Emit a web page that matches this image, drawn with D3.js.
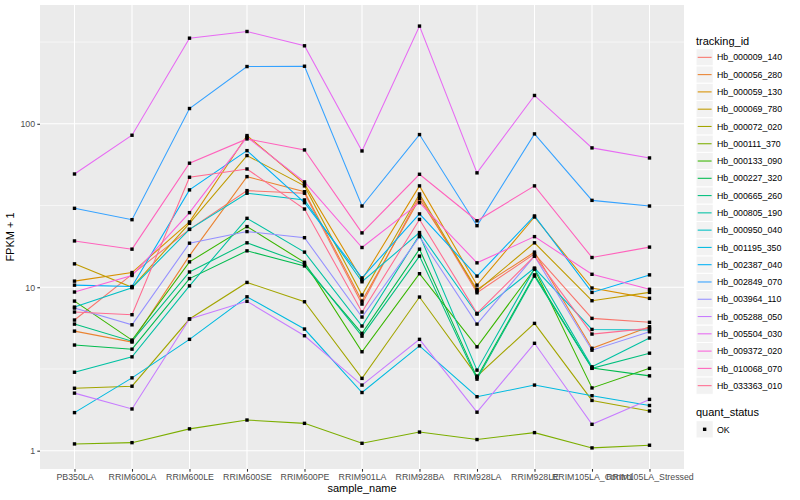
<!DOCTYPE html>
<html lang="en">
<head>
<meta charset="utf-8">
<title>FPKM by sample</title>
<script src="https://cdn.jsdelivr.net/npm/d3@7"></script>
<style>
  body { margin: 0; background: #fff; }
  svg text { font-family: "Liberation Sans", Arial, Helvetica, sans-serif; }
</style>
</head>
<body>
<div id="chart"></div>
<script>
// sample names on the x axis
var samples = ["PB350LA","RRIM600LA","RRIM600LE","RRIM600SE","RRIM600PE","RRIM901LA",
               "RRIM928BA","RRIM928LA","RRIM928LE","RRIM105LA_Control","RRIM105LA_Stressed"]

// FPKM + 1 per tracking id, one value per sample
var hb_000009_140 = [6.30, 12.0, 22.6, 39.0, 37.6, 7.89, 36.2, 9.25, 16.0, 6.45, 6.10]
var hb_000056_280 = [5.39, 4.62, 15.6, 47.5, 38.4, 8.23, 34.8, 9.71, 16.4, 4.23, 5.73]
var hb_000059_130 = [10.9, 12.3, 25.1, 84.7, 42.9, 11.1, 41.7, 10.3, 26.9, 9.89, 8.55]
var hb_000069_780 = [13.9, 10.0, 24.6, 63.9, 41.7, 8.96, 37.2, 9.48, 18.7, 8.27, 9.30]
var hb_000072_020 = [2.41, 2.48, 6.39, 10.7, 8.15, 2.77, 8.71, 2.86, 6.01, 2.03, 1.75]
var hb_000111_370 = [1.10, 1.12, 1.36, 1.54, 1.47, 1.11, 1.30, 1.17, 1.29, 1.04, 1.08]
var hb_000133_090 = [8.23, 4.75, 14.3, 23.5, 14.2, 4.03, 12.1, 4.32, 12.9, 2.42, 3.19]
var hb_000227_320 = [4.43, 4.18, 11.3, 16.7, 13.5, 5.22, 17.1, 2.81, 11.9, 3.20, 2.87]
var hb_000665_260 = [5.95, 4.68, 12.4, 18.7, 13.9, 5.02, 15.5, 2.74, 11.7, 3.19, 3.95]
var hb_000805_190 = [3.02, 3.75, 10.2, 26.4, 16.4, 5.79, 20.9, 3.11, 13.0, 3.26, 4.89]
var hb_000950_040 = [7.56, 9.93, 22.6, 37.6, 34.2, 10.8, 21.6, 6.85, 13.1, 5.52, 5.47]
var hb_001195_350 = [1.71, 2.79, 4.80, 8.74, 5.55, 2.27, 4.38, 2.14, 2.52, 2.17, 1.89]
var hb_002387_040 = [10.3, 10.1, 39.4, 68.5, 32.9, 11.4, 28.1, 11.7, 27.3, 9.30, 11.9]
var hb_002849_070 = [30.4, 25.9, 124, 224, 225, 31.4, 85.9, 23.8, 86.7, 34.0, 31.4]
var hb_003964_110 = [7.46, 5.89, 18.6, 21.9, 20.1, 6.57, 20.4, 5.95, 15.5, 4.12, 5.34]
var hb_005288_050 = [2.25, 1.80, 6.39, 8.20, 5.05, 2.52, 4.80, 1.72, 4.54, 1.45, 2.06]
var hb_005504_030 = [49.3, 85.1, 334, 367, 300, 68.2, 396, 50.1, 149, 71.2, 61.8]
var hb_009372_020 = [9.35, 11.8, 28.6, 82.8, 44.1, 17.5, 32.9, 14.1, 20.4, 12.0, 9.71]
var hb_010068_070 = [19.2, 17.1, 57.4, 80.8, 69.2, 21.5, 49.1, 25.5, 41.7, 15.2, 17.6]
var hb_033363_010 = [7.05, 6.79, 47.1, 52.9, 30.1, 7.05, 26.0, 6.92, 15.5, 5.17, 5.60]

var trackingIds = ["Hb_000009_140","Hb_000056_280","Hb_000059_130","Hb_000069_780","Hb_000072_020",
                   "Hb_000111_370","Hb_000133_090","Hb_000227_320","Hb_000665_260","Hb_000805_190",
                   "Hb_000950_040","Hb_001195_350","Hb_002387_040","Hb_002849_070","Hb_003964_110",
                   "Hb_005288_050","Hb_005504_030","Hb_009372_020","Hb_010068_070","Hb_033363_010"]
var seriesValues = [hb_000009_140, hb_000056_280, hb_000059_130, hb_000069_780, hb_000072_020,
                    hb_000111_370, hb_000133_090, hb_000227_320, hb_000665_260, hb_000805_190,
                    hb_000950_040, hb_001195_350, hb_002387_040, hb_002849_070, hb_003964_110,
                    hb_005288_050, hb_005504_030, hb_009372_020, hb_010068_070, hb_033363_010]
var yTicks = [1, 10, 100]
var yMinor = [Math.pow(10, 0.5), Math.pow(10, 1.5), Math.pow(10, 2.5)]

// ggplot hue palette for 20 levels
var colors = ["#F8766D","#EA8331","#D89000","#C09B00","#A3A500","#7CAE00","#39B600","#00BB4E",
              "#00BF7D","#00C1A3","#00BFC4","#00BAE0","#00B0F6","#35A2FF","#9590FF","#C77CFF",
              "#E76BF3","#FA62DB","#FF62BC","#FF6C91"]

var series = trackingIds.map(function(id, i){
  return {id: id, color: colors[i], values: seriesValues[i].map(function(v, j){ return {sample: samples[j], v: v} })}
})

var W = 800, H = 500
var panel = {left: 40, right: 684, top: 5, bottom: 469}

var svg = d3.select("#chart").append("svg").attr("width", W).attr("height", H)

var xScale = d3.scalePoint().domain(samples).range([panel.left, panel.right]).padding(0.6)

// log scale, expanded 5% each side like ggplot
var allV = [].concat.apply([], seriesValues)
var lo = Math.log10(d3.min(allV)), hi = Math.log10(d3.max(allV))
var pad = (hi - lo) * 0.05
var yScale = d3.scaleLog().domain([Math.pow(10, lo - pad), Math.pow(10, hi + pad)]).range([panel.bottom, panel.top])

// panel background
svg.append("rect")
   .attr("x", panel.left).attr("y", panel.top)
   .attr("width", panel.right - panel.left).attr("height", panel.bottom - panel.top)
   .attr("fill", "#EBEBEB")

// minor grid (half decades)
svg.selectAll(".minor").data(yMinor).enter()
   .append("line")
   .attr("x1", panel.left).attr("x2", panel.right)
   .attr("y1", function(d){ return yScale(d) }).attr("y2", function(d){ return yScale(d) })
   .attr("stroke", "#fff").attr("stroke-width", 0.55)

// major grid
svg.selectAll(".gy").data(yTicks).enter()
   .append("line")
   .attr("x1", panel.left).attr("x2", panel.right)
   .attr("y1", function(d){ return yScale(d) }).attr("y2", function(d){ return yScale(d) })
   .attr("stroke", "#fff").attr("stroke-width", 1.07)
svg.selectAll(".gx").data(samples).enter()
   .append("line")
   .attr("x1", function(d){ return xScale(d) }).attr("x2", function(d){ return xScale(d) })
   .attr("y1", panel.top).attr("y2", panel.bottom)
   .attr("stroke", "#fff").attr("stroke-width", 1.07)

// lines
var line = d3.line().x(function(d){ return xScale(d.sample) }).y(function(d){ return yScale(d.v) })
svg.selectAll(".series").data(series).enter()
   .append("path")
   .attr("d", function(d){ return line(d.values) })
   .attr("fill", "none")
   .attr("stroke", function(d){ return d.color })
   .attr("stroke-width", 1.07)

// points (quant_status = OK)
var pts = [].concat.apply([], series.map(function(s){ return s.values }))
svg.selectAll(".pt").data(pts).enter()
   .append("rect")
   .attr("x", function(d){ return xScale(d.sample) - 1.7 })
   .attr("y", function(d){ return yScale(d.v) - 1.7 })
   .attr("width", 3.4).attr("height", 3.4)
   .attr("fill", "#000")

// axes
var xAxis = svg.append("g").attr("transform", "translate(0," + panel.bottom + ")")
   .call(d3.axisBottom(xScale).tickSize(2.7).tickSizeOuter(0))
var yAxis = svg.append("g").attr("transform", "translate(" + panel.left + ",0)")
   .call(d3.axisLeft(yScale).tickValues(yTicks).tickFormat(d3.format("d")).tickSize(2.7).tickSizeOuter(0))
svg.selectAll(".domain").remove()
svg.selectAll(".tick line").attr("stroke", "#333333").attr("stroke-width", 1.07)
svg.selectAll(".tick text").attr("fill", "#4D4D4D").style("font-size", "8.8px")
xAxis.selectAll(".tick text").attr("dy", "0.71em").attr("y", 5.2)
yAxis.selectAll(".tick text").attr("x", -4.9)

svg.append("text")
   .attr("x", (panel.left + panel.right) / 2).attr("y", 492)
   .attr("text-anchor", "middle").style("font-size", "11px").attr("fill", "#000")
   .text("sample_name")
svg.append("text")
   .attr("transform", "translate(14," + ((panel.top + panel.bottom) / 2) + ") rotate(-90)")
   .attr("text-anchor", "middle").style("font-size", "11px").attr("fill", "#000")
   .text("FPKM + 1")

// legend: tracking_id
var lg = svg.append("g").attr("transform", "translate(696,0)")
lg.append("text").attr("x", 0).attr("y", 44.5).style("font-size", "11px").text("tracking_id")
var keys = lg.selectAll(".key").data(series).enter().append("g")
   .attr("transform", function(d, i){ return "translate(0," + (48.7 + i * 17.28) + ")" })
keys.append("rect").attr("width", 17.28).attr("height", 17.28).attr("fill", "#F2F2F2").attr("stroke", "#fff")
keys.append("line").attr("x1", 1.7).attr("x2", 15.6).attr("y1", 8.64).attr("y2", 8.64)
   .attr("stroke", function(d){ return d.color }).attr("stroke-width", 1.07)
keys.append("text").attr("x", 21).attr("y", 11.8).style("font-size", "8.8px").text(function(d){ return d.id })

// legend: quant_status
var lq = svg.append("g").attr("transform", "translate(696,0)")
lq.append("text").attr("x", 0).attr("y", 416).style("font-size", "11px").text("quant_status")
lq.append("rect").attr("y", 420.7).attr("width", 17.28).attr("height", 17.28).attr("fill", "#F2F2F2").attr("stroke", "#fff")
lq.append("rect").attr("x", 8.64 - 1.7).attr("y", 429.3 - 1.7).attr("width", 3.4).attr("height", 3.4).attr("fill", "#000")
lq.append("text").attr("x", 21).attr("y", 432.5).style("font-size", "8.8px").text("OK")
</script>
</body>
</html>
